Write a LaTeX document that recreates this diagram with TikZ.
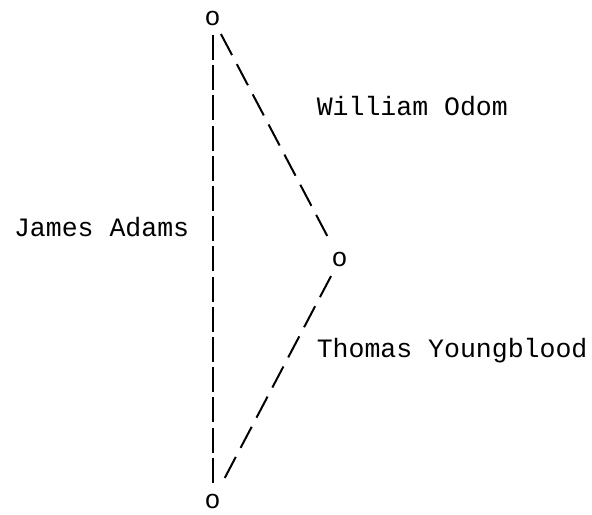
\documentclass[tikz,border=0pt]{standalone}
\usepackage{fontspec}
\setmonofont{Liberation Mono}
\usepackage{tikz}
\usetikzlibrary{positioning}

\begin{document}
\begin{tikzpicture}
[x=0.75pt, y=-0.75pt,
 every node/.style={inner sep=0pt, font=\ttfamily\fontsize{19.9}{22.6}\selectfont},
 vertex/.style={anchor=base},
 name label/.style={anchor=base west},
 bar/.style={line width=1.5pt, dash pattern=on 18.75pt off 3.9pt},
 slash/.style={line width=1.5pt, dash pattern=on 17.85pt off 7.7pt},
]
\useasboundingbox (0,0) rectangle (592,514);

\node[vertex] (top) at (212.5,25) {o};
\node[vertex] (mid) at (339.7,266.6) {o};
\node[vertex] (bot) at (212.5,508.2) {o};

\node[name label] (adams) at (13.75,236.6) {James Adams};
\node[name label] (odom) at (316.5,115.6) {William Odom};
\node[name label] (youngblood) at (316.5,357.2) {Thomas Youngblood};

\draw[bar, shorten <=12.75pt, shorten >=13.8pt] (top.center) -- (bot.center);
\draw[slash, shorten <=13.6pt, shorten >=20pt] (top.center) -- (mid.center);
\draw[slash, shorten <=13.95pt, shorten >=19.65pt] (mid.center) -- (bot.center);
\end{tikzpicture}
\end{document}
